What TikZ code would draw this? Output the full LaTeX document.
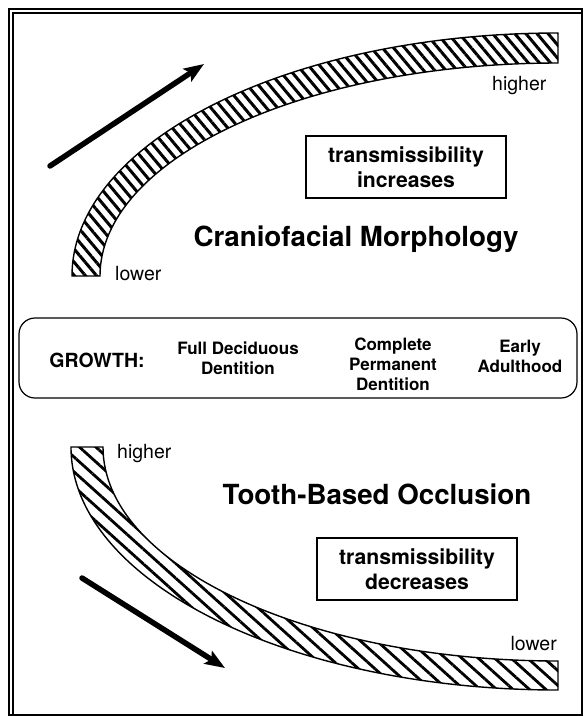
\documentclass[tikz,border=0pt]{standalone}
\usepackage{fontspec}
\setmainfont{TeX Gyre Heros}
\usetikzlibrary{arrows.meta,patterns.meta,positioning}
\tikzset{
  frameline/.style={line width=1.1pt},
  band/.style={draw,line width=1.4pt,
    pattern={Lines[angle=-50,distance=8.5pt,line width=3pt]}},
  lowband/.style={draw,line width=1.4pt,
    pattern={Lines[angle=-42,distance=11pt,line width=2.8pt]}},
  trend/.style={-{Stealth[length=20pt,width=15pt,inset=4pt]},
    line width=5.5pt,line cap=round},
  title/.style={font=\fontsize{27.7}{32}\selectfont\bfseries},
  endlabel/.style={font=\fontsize{19.5}{22}\selectfont,inner sep=0pt},
  trendbox/.style={draw,line width=1.2pt,align=center,
    minimum width=200pt,minimum height=62pt,
    font=\fontsize{21.2}{25}\selectfont\bfseries},
  growthbox/.style={draw,line width=1.2pt,rounded corners=16pt,
    minimum width=558pt,minimum height=80pt},
  stagehead/.style={font=\fontsize{19.5}{22}\selectfont\bfseries},
  stage/.style={align=center,font=\fontsize{17}{20}\selectfont\bfseries}
}

\begin{document}
\begin{tikzpicture}[x=1pt,y=1pt]
  \useasboundingbox (0,0) rectangle (585,-716);
  % outer frame
  \draw[frameline] (9,-9) rectangle (582,-715);
  \draw[frameline] (13,-715) -- (13,-13) -- (582,-13);

  % upper band
  \draw[band] (72,-276) arc[start angle=180,end angle=90,x radius=486,y radius=243]
    -- (558,-63) arc[start angle=90,end angle=180,x radius=458,y radius=213] -- cycle;
  \node[endlabel,anchor=base west] (craHigh) at (492,-90) {higher};
  \node[endlabel,anchor=base west] (craLow) at (115,-280) {lower};
  \node[title] (cranio) at (356,-239) {Craniofacial Morphology};
  \node[trendbox] (incBox) at (406,-167) {transmissibility\\increases};
  \coordinate (riseTail) at (50,-166);
  \coordinate (riseTip) at (204,-64);
  \draw[trend] (riseTail) -- (riseTip);

  % growth stages
  \node[growthbox] (growth) at (298,-358) {};
  \node[stagehead] (growLabel) at (97,-360) {GROWTH:};
  \node[stage] (deciduous) at (238,-358) {Full Deciduous\\Dentition};
  \node[stage] (permanent) at (393,-364) {Complete\\Permanent\\Dentition};
  \node[stage] (adult) at (520,-356) {Early\\Adulthood};

  % lower band
  \draw[lowband] (71,-447) arc[start angle=180,end angle=270,x radius=487,y radius=243]
    -- (558,-661) arc[start angle=270,end angle=180,x radius=455,y radius=214] -- cycle;
  \node[endlabel,anchor=base west] (tthHigh) at (117,-458) {higher};
  \node[endlabel,anchor=base east] (tthLow) at (557,-650) {lower};
  \node[title] (tooth) at (377,-494) {Tooth-Based Occlusion};
  \node[trendbox] (decBox) at (417,-569) {transmissibility\\decreases};
  \coordinate (fallTail) at (82,-578);
  \coordinate (fallTip) at (225,-668);
  \draw[trend] (fallTail) -- (fallTip);
\end{tikzpicture}
\end{document}
